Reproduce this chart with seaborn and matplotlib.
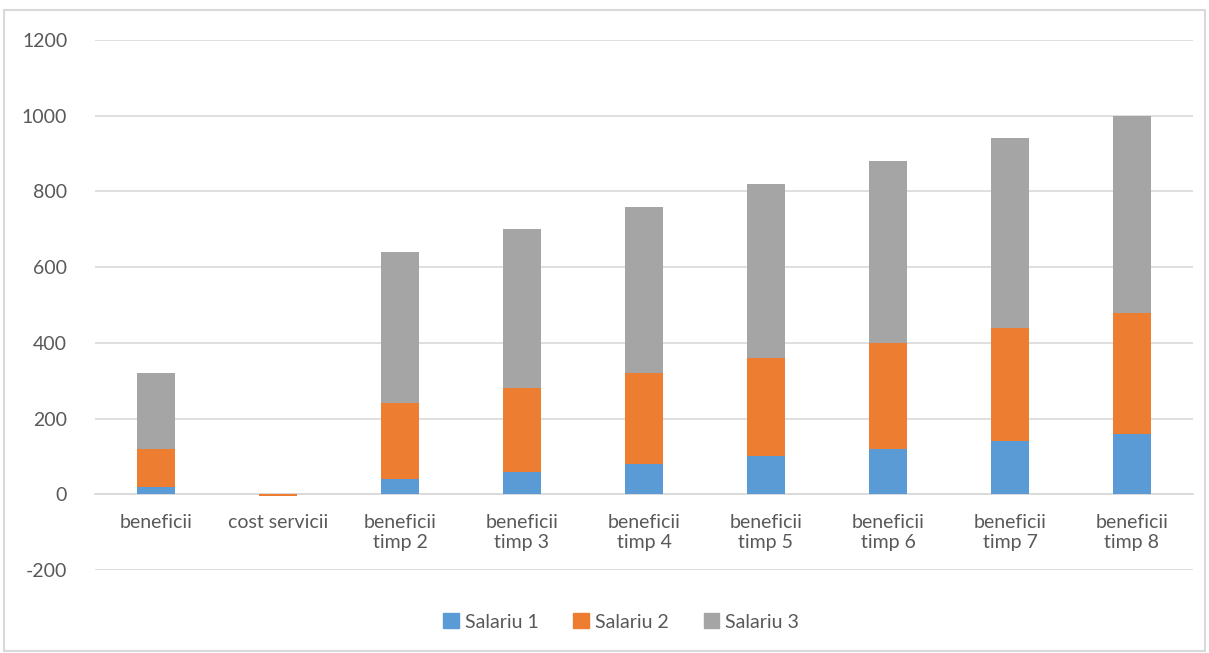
import matplotlib
matplotlib.use("Agg")
import matplotlib.pyplot as plt
import matplotlib.patches as mpatches
import numpy as np
import pandas as pd
import seaborn as sns

categories = ["beneficii", "cost servicii", "beneficii\ntimp 2", "beneficii\ntimp 3",
              "beneficii\ntimp 4", "beneficii\ntimp 5", "beneficii\ntimp 6",
              "beneficii\ntimp 7", "beneficii\ntimp 8"]
salariu_1 = [20, 0, 40, 60, 80, 100, 120, 140, 160]
salariu_2 = [100, -5, 200, 220, 240, 260, 280, 300, 320]
salariu_3 = [200, 0, 400, 420, 440, 460, 480, 500, 520]
series_names = ["Salariu 1", "Salariu 2", "Salariu 3"]
colors = ["#5B9BD5", "#ED7D31", "#A5A5A5"]

sns.set_theme(style="white")
plt.rcParams["font.family"] = ["Lato", "DejaVu Sans"]
plt.rcParams["axes.unicode_minus"] = False
text_color = "#595959"
grid_color = "#D9D9D9"

fig = plt.figure(figsize=(12.09, 6.53), dpi=100)
ax = fig.add_axes([95 / 1209, 1 - 570 / 653, (1193 - 95) / 1209, (570 - 40) / 653])

# stacked bars: draw cumulative totals from the top layer down
cum1 = np.array(salariu_1)
cum2 = cum1 + np.array(salariu_2)
cum3 = cum2 + np.array(salariu_3)
layers = [cum3, cum2, cum1]
for vals, col in zip(layers, colors[::-1]):
    df = pd.DataFrame({"cat": categories, "val": vals})
    sns.barplot(data=df, x="cat", y="val", color=col, width=0.31,
                saturation=1, ax=ax, zorder=3, linewidth=0, edgecolor="none")

ax.set_ylim(-200, 1200)
ax.set_xlim(-0.5, len(categories) - 0.5)
ax.set_yticks(np.arange(-200, 1201, 200))
ax.yaxis.grid(True, color=grid_color, linewidth=1.2, zorder=0)
ax.set_axisbelow(True)
for side in ["top", "right", "left"]:
    ax.spines[side].set_visible(False)
ax.spines["bottom"].set_position(("data", 0))
ax.spines["bottom"].set_color(grid_color)
ax.spines["bottom"].set_linewidth(1.2)
ax.spines["bottom"].set_zorder(2)
ax.tick_params(axis="both", length=0, labelcolor=text_color, labelsize=14)
ax.tick_params(axis="y", pad=20)
ax.tick_params(axis="x", pad=14)
ax.set_xlabel("")
ax.set_ylabel("")

handles = [mpatches.Patch(color=c, label=n) for c, n in zip(colors, series_names)]
leg = fig.legend(handles=handles, loc="center", bbox_to_anchor=(621 / 1209, 1 - 622 / 653),
                 ncol=3, frameon=False, fontsize=14, handlelength=0.8, handleheight=0.8,
                 handletextpad=0.3, columnspacing=1.8)
for t in leg.get_texts():
    t.set_color(text_color)

# light outer border around the figure
fig.patches.append(mpatches.Rectangle((0.003, 0.003), 0.994, 0.982, transform=fig.transFigure,
                                      fill=False, edgecolor=grid_color, linewidth=1.5))

fig.savefig("out.png", dpi=100)
